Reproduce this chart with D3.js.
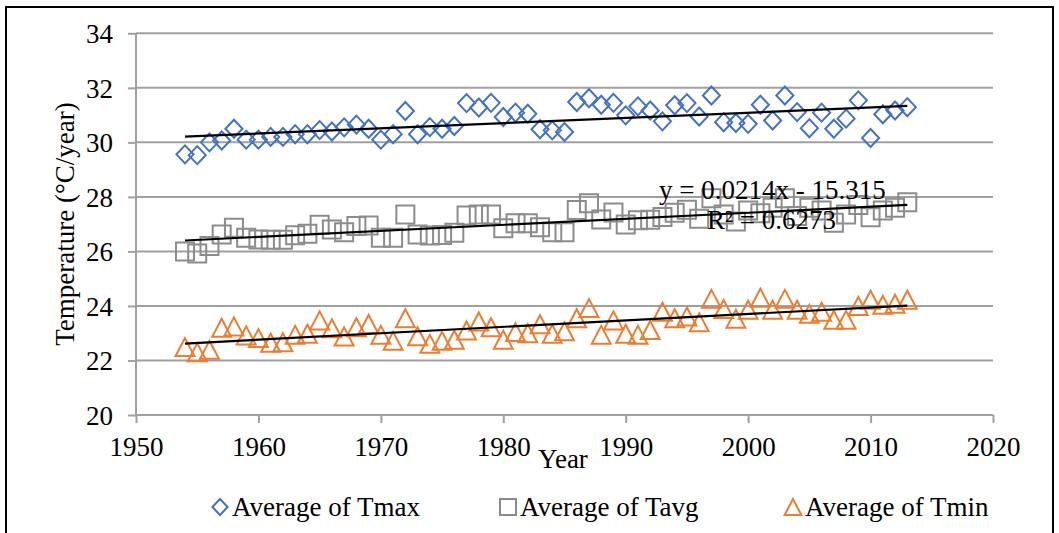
<!DOCTYPE html>
<html>
<head>
<meta charset="utf-8">
<script src="https://cdn.jsdelivr.net/npm/d3@7"></script>
<style>
  html, body { margin: 0; padding: 0; background: #fff; }
  svg { display: block; font-family: "Liberation Serif", "Times New Roman", serif; }
  svg text { font-family: "Liberation Serif", "Times New Roman", serif !important; }
</style>
</head>
<body>
<svg id="chart" width="1059" height="533"></svg>
<script>
// ---- data ----
const years = d3.range(1954, 2014);
const tmax = [29.56, 29.53, 30.00, 30.07, 30.50, 30.10, 30.10, 30.20, 30.20, 30.30,
              30.30, 30.45, 30.40, 30.55, 30.65, 30.50, 30.10, 30.30, 31.15, 30.30,
              30.56, 30.50, 30.60, 31.44, 31.28, 31.45, 30.93, 31.09, 31.05, 30.48,
              30.44, 30.38, 31.48, 31.62, 31.38, 31.45, 30.99, 31.32, 31.17, 30.77,
              31.36, 31.44, 30.95, 31.72, 30.74, 30.71, 30.68, 31.38, 30.80, 31.72,
              31.11, 30.52, 31.09, 30.50, 30.87, 31.54, 30.16, 31.03, 31.17, 31.29];
const tavg = [26.00, 25.92, 26.20, 26.62, 26.87, 26.50, 26.44, 26.43, 26.43, 26.59,
              26.65, 26.98, 26.80, 26.70, 26.93, 26.95, 26.50, 26.50, 27.35, 26.62,
              26.58, 26.60, 26.68, 27.32, 27.35, 27.35, 26.85, 27.03, 27.03, 26.89,
              26.70, 26.70, 27.52, 27.77, 27.17, 27.43, 26.99, 27.14, 27.16, 27.26,
              27.42, 27.53, 27.20, 27.95, 27.35, 27.10, 27.50, 27.40, 27.60, 27.95,
              27.30, 27.60, 27.50, 27.05, 27.35, 27.70, 27.25, 27.50, 27.60, 27.80];
const tmin = [22.49, 22.30, 22.39, 23.20, 23.25, 22.92, 22.82, 22.65, 22.67, 22.94,
              22.98, 23.47, 23.18, 22.88, 23.22, 23.34, 22.94, 22.72, 23.55, 22.89,
              22.61, 22.72, 22.76, 23.10, 23.43, 23.22, 22.76, 23.04, 23.00, 23.33,
              22.98, 23.07, 23.55, 23.92, 22.94, 23.47, 22.98, 22.94, 23.12, 23.79,
              23.55, 23.61, 23.40, 24.26, 23.89, 23.53, 23.86, 24.30, 23.86, 24.26,
              23.86, 23.71, 23.79, 23.49, 23.49, 24.00, 24.23, 24.04, 24.08, 24.23];
const seriesNames = ["Average of Tmax", "Average of Tavg", "Average of Tmin"];
const xTicks = [1950, 1960, 1970, 1980, 1990, 2000, 2010, 2020];
const yTicks = [20, 22, 24, 26, 28, 30, 32, 34];
const equationText = "y = 0.0214x - 15.315";
const r2Text = "R² = 0.6273";
const xTitle = "Year";
const yTitle = "Temperature (°C/year)";

// ---- layout ----
const svg = d3.select("#chart");
const W = 1059, H = 533;
const plot = { left: 136, right: 993, top: 33.3, bottom: 415 };
const x = d3.scaleLinear().domain([1950, 2020]).range([plot.left, plot.right]);
const y = d3.scaleLinear().domain([20, 34]).range([plot.bottom, plot.top]);
const gridColor = "#a0a0a0";
const colors = ["#4472C4", "#8c8c8c", "#ED7D31"];
const FONT = "Liberation Serif";
const FS = 27;

svg.append("rect").attr("x", 0).attr("y", 0).attr("width", W).attr("height", H).attr("fill", "#fff");
svg.append("rect").attr("x", 6).attr("y", 7).attr("width", 1047).attr("height", 560)
  .attr("fill", "none").attr("stroke", "#000").attr("stroke-width", 2);

// gridlines
svg.append("g").selectAll("line").data(yTicks.filter(d => d !== 20)).join("line")
  .attr("x1", plot.left).attr("x2", plot.right)
  .attr("y1", d => y(d)).attr("y2", d => y(d))
  .attr("stroke", gridColor).attr("stroke-width", 2);

// y axis
const yAxis = d3.axisLeft(y).tickValues(yTicks).tickSize(8).tickPadding(15).tickFormat(d3.format("d"));
const gy = svg.append("g").attr("transform", `translate(${plot.left},0)`).call(yAxis)
  .attr("font-family", FONT).attr("font-size", FS);
gy.select(".domain").attr("stroke", gridColor).attr("stroke-width", 2).attr("d", `M0,${plot.top}V${plot.bottom}`);
gy.selectAll(".tick line").attr("stroke", gridColor).attr("stroke-width", 2);
gy.selectAll(".tick text").attr("fill", "#000").attr("dy", "0.34em").style("font-family", FONT);

// x axis
const xAxis = d3.axisBottom(x).tickValues(xTicks).tickSize(8).tickPadding(14).tickFormat(d3.format("d"));
const gx = svg.append("g").attr("transform", `translate(0,${plot.bottom})`).call(xAxis)
  .attr("font-family", FONT).attr("font-size", FS);
gx.select(".domain").attr("stroke", gridColor).attr("stroke-width", 2).attr("d", `M${plot.left},0H${plot.right}`);
gx.selectAll(".tick line").attr("stroke", gridColor).attr("stroke-width", 2);
gx.selectAll(".tick text").attr("fill", "#000").attr("dy", "0.71em").style("font-family", FONT);

// markers
const diamond = (s) => `M0,${-s}L${s*0.95},0L0,${s}L${-s*0.95},0Z`;
const square = (s) => `M${-s},${-s}H${s}V${s}H${-s}Z`;
const triangle = (s) => `M0,${-s}L${s*1.05},${s}L${-s*1.05},${s}Z`;
const shapes = [diamond, square, triangle];
const allSeries = [tmax, tavg, tmin];

function regression(xs, ys) {
  const mx = d3.mean(xs), my = d3.mean(ys);
  const b = d3.sum(xs, (v, i) => (v - mx) * (ys[i] - my)) / d3.sum(xs, v => (v - mx) ** 2);
  return { b, a: my - b * mx };
}

allSeries.forEach((vals, si) => {
  const g = svg.append("g");
  g.selectAll("path").data(vals).join("path")
    .attr("transform", (d, i) => `translate(${x(years[i])},${y(d)})`)
    .attr("d", shapes[si](9))
    .attr("fill", "none").attr("stroke", colors[si]).attr("stroke-width", 2);
});

// trend lines (drawn on top)
allSeries.forEach((vals) => {
  const r = regression(years, vals);
  const x0 = years[0], x1 = years[years.length - 1];
  svg.append("line")
    .attr("x1", x(x0)).attr("y1", y(r.a + r.b * x0))
    .attr("x2", x(x1)).attr("y2", y(r.a + r.b * x1))
    .attr("stroke", "#000").attr("stroke-width", 2.2);
});

const txt = (sel) => sel.attr("font-family", FONT).attr("font-size", FS).attr("fill", "#000");

// equation labels
svg.append("text").attr("x", 659).attr("y", 199).call(txt).text(equationText);
svg.append("text").attr("x", 707).attr("y", 229).call(txt).text(r2Text);

// axis titles
svg.append("text").attr("x", 563).attr("y", 468).attr("text-anchor", "middle").call(txt).text(xTitle);
svg.append("text").attr("transform", "translate(74,224) rotate(-90)").attr("text-anchor", "middle")
  .call(txt).text(yTitle);

// legend
const legendX = [220, 508, 793];
seriesNames.forEach((name, i) => {
  svg.append("path").attr("transform", `translate(${legendX[i]},507)`)
    .attr("d", shapes[i](8)).attr("fill", "none").attr("stroke", colors[i]).attr("stroke-width", 2);
  svg.append("text").attr("x", legendX[i] + 12).attr("y", 516).call(txt).text(name);
});
</script>
</body>
</html>
